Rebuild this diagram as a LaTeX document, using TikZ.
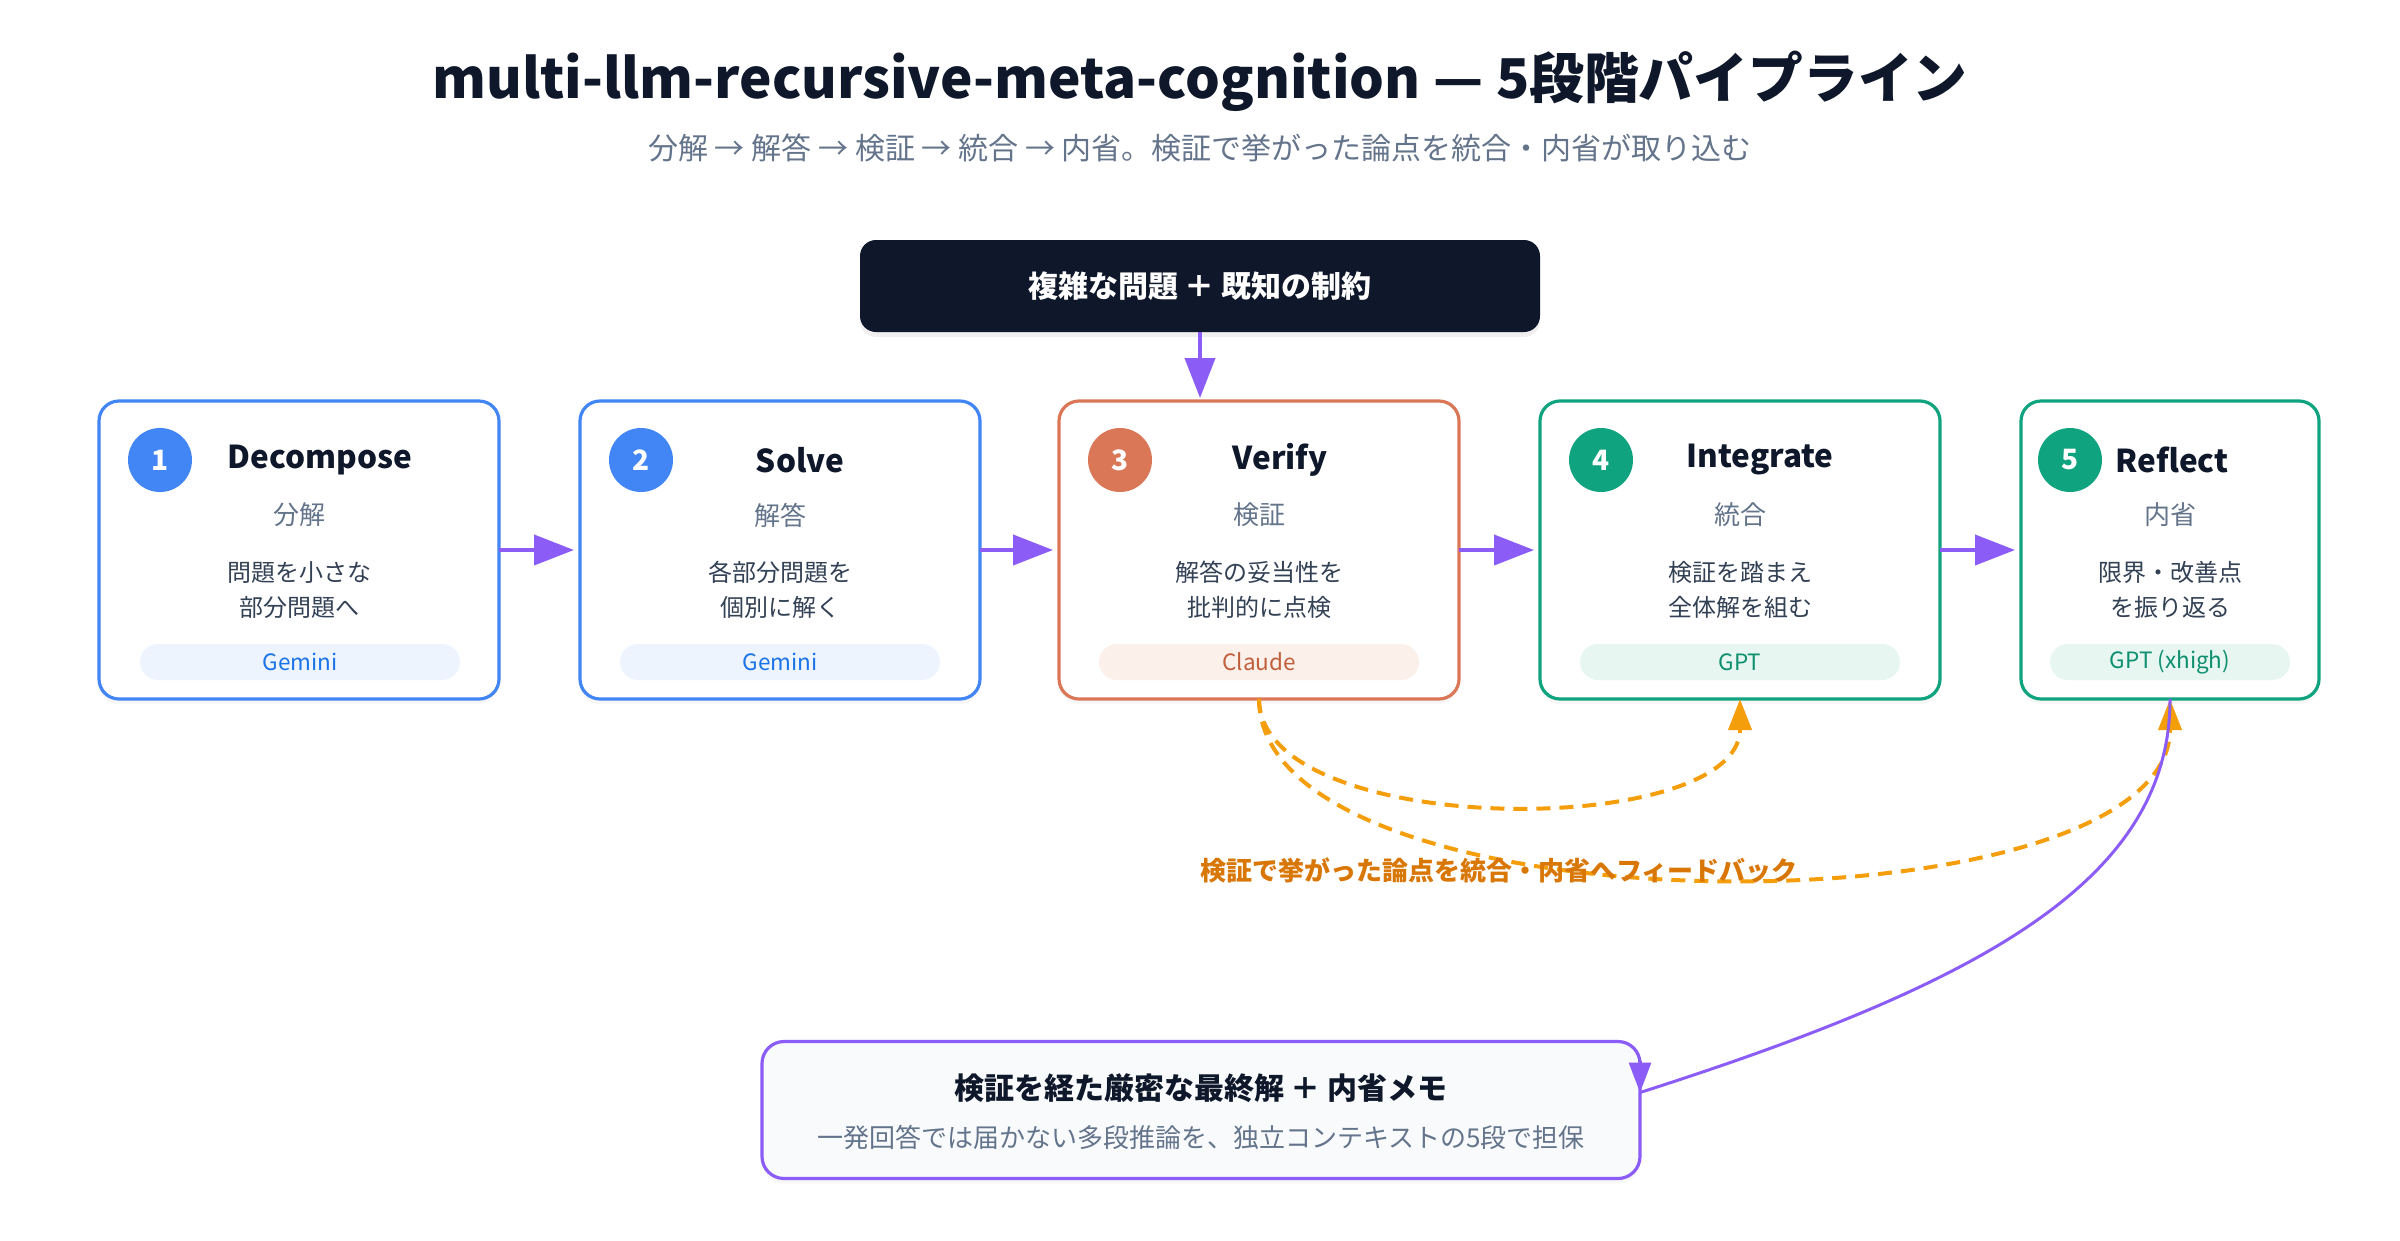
\documentclass[tikz,border=0pt]{standalone}
\usepackage{fontspec}
\setmainfont{Noto Sans CJK JP}
\usetikzlibrary{arrows.meta,shadows,calc}
\definecolor{ink}{HTML}{0F172A}
\definecolor{slate}{HTML}{64748B}
\definecolor{desc}{HTML}{334155}
\definecolor{gblue}{HTML}{4285F4}
\definecolor{gbluepill}{HTML}{EEF4FE}
\definecolor{gbluetext}{HTML}{1A73E8}
\definecolor{corange}{HTML}{D97757}
\definecolor{corangepill}{HTML}{FBF0EA}
\definecolor{corangetext}{HTML}{C15F3C}
\definecolor{ggreen}{HTML}{10A37F}
\definecolor{ggreenpill}{HTML}{E7F6F1}
\definecolor{ggreentext}{HTML}{0E8F6E}
\definecolor{flowpurple}{HTML}{8B5CF6}
\definecolor{amber}{HTML}{F59E0B}
\definecolor{amberdark}{HTML}{D97706}
\definecolor{finalfill}{HTML}{F8FAFC}
\newcommand\fsz[2]{\fontsize{#1}{#2}\selectfont}
\tikzset{
  txt/.style={inner sep=0pt, outer sep=0pt},
  topbox/.style={txt, fill=ink, rounded corners=16pt, minimum width=680pt, minimum height=92pt,
    text=white, font=\fsz{30}{36}\bfseries,
    drop shadow={opacity=0.12, shadow xshift=0pt, shadow yshift=-5pt}},
  stagebox/.style={txt, fill=white, line width=3.2pt, rounded corners=20pt, minimum height=298pt,
    drop shadow={opacity=0.06, shadow xshift=0pt, shadow yshift=-5pt}},
  badge/.style={txt, circle, minimum size=64pt, text=white, font=\fsz{28}{32}\bfseries},
  stagetitle/.style={txt, text=ink, font=\fsz{31.5}{36}\bfseries},
  stageja/.style={txt, text=slate, font=\fsz{26}{30}},
  stagedesc/.style={txt, text=desc, align=center, font=\fsz{24}{35}},
  pill/.style={txt, rounded corners=18pt, minimum height=36pt, font=\fsz{22.5}{26}},
  flow/.style={draw=flowpurple, line width=4pt, -{Triangle[length=40pt,width=30pt]}, shorten >=6pt},
  fb/.style={draw=amber, line width=4pt, dash pattern=on 14pt off 9pt, -{Triangle[length=31pt,width=23pt]}},
  fin/.style={draw=flowpurple, line width=3pt},
  fintip/.style={draw=flowpurple, line width=3pt, -{Triangle[length=30pt,width=22pt]}},
  finalbox/.style={txt, fill=finalfill, draw=flowpurple, line width=3.2pt, rounded corners=22pt,
    minimum width=878pt, minimum height=137pt,
    drop shadow={opacity=0.06, shadow xshift=0pt, shadow yshift=-5pt}}
}
\begin{document}
\begin{tikzpicture}[x=1pt,y=-1pt]
\useasboundingbox (0,0) rectangle (2400,1240);
\fill[white] (0,0) rectangle (2400,1240);

\node[txt, text=ink, font=\fsz{54.8}{62}\bfseries] (title) at (1200,81) {multi-llm-recursive-meta-cognition — 5段階パイプライン};
\node[txt, text=slate, font=\fsz{30}{35}] (subtitle) at (1200,148) {分解 → 解答 → 検証 → 統合 → 内省。検証で挙がった論点を統合・内省が取り込む};

\node[topbox] (input) at (1200,286) {複雑な問題 ＋ 既知の制約};

% stage 1
\node[stagebox, draw=gblue, minimum width=400pt] (s1) at (299,550) {};
\node[badge, fill=gblue] (n1) at (160,460) {1};
\node[stagetitle] (t1) at (320,460) {Decompose};
\node[stageja] (j1) at (299,515) {分解};
\node[stagedesc] (d1) at (299,590) {問題を小さな\\部分問題へ};
\node[pill, fill=gbluepill, text=gbluetext, minimum width=320pt] (p1) at (300,662) {Gemini};

% stage 2
\node[stagebox, draw=gblue, minimum width=400pt] (s2) at (780,550) {};
\node[badge, fill=gblue] (n2) at (641,460) {2};
\node[stagetitle] (t2) at (800,460) {Solve};
\node[stageja] (j2) at (780,515) {解答};
\node[stagedesc] (d2) at (780,590) {各部分問題を\\個別に解く};
\node[pill, fill=gbluepill, text=gbluetext, minimum width=320pt] (p2) at (780,662) {Gemini};

% stage 3
\node[stagebox, draw=corange, minimum width=400pt] (s3) at (1259,550) {};
\node[badge, fill=corange] (n3) at (1120,460) {3};
\node[stagetitle] (t3) at (1280,460) {Verify};
\node[stageja] (j3) at (1259,515) {検証};
\node[stagedesc] (d3) at (1259,590) {解答の妥当性を\\批判的に点検};
\node[pill, fill=corangepill, text=corangetext, minimum width=320pt] (p3) at (1259,662) {Claude};

% stage 4
\node[stagebox, draw=ggreen, minimum width=400pt] (s4) at (1740,550) {};
\node[badge, fill=ggreen] (n4) at (1601,460) {4};
\node[stagetitle] (t4) at (1760,460) {Integrate};
\node[stageja] (j4) at (1740,515) {統合};
\node[stagedesc] (d4) at (1740,590) {検証を踏まえ\\全体解を組む};
\node[pill, fill=ggreenpill, text=ggreentext, minimum width=320pt] (p4) at (1740,662) {GPT};

% stage 5
\node[stagebox, draw=ggreen, minimum width=298pt] (s5) at (2170,550) {};
\node[badge, fill=ggreen] (n5) at (2070,460) {5};
\node[stagetitle] (t5) at (2172,460) {Reflect};
\node[stageja] (j5) at (2170,515) {内省};
\node[stagedesc] (d5) at (2170,590) {限界・改善点\\を振り返る};
\node[pill, fill=ggreenpill, text=ggreentext, minimum width=240pt] (p5) at (2170,662) {GPT (xhigh)};

% flow arrows
\draw[flow, shorten >=3pt] (input.south) -- (input.south |- s3.north);
\draw[flow] (s1.east) -- (s2.west);
\draw[flow] (s2.east) -- (s3.west);
\draw[flow] (s3.east) -- (s4.west);
\draw[flow] (s4.east) -- (s5.west);

% feedback
\draw[fb] (s3.south) .. controls (1260,840) and (1740,840) .. (s4.south);
\draw[fb] (s3.south) .. controls (1260,937) and (2170,937) .. (s5.south);
\node[txt, text=amberdark, font=\fsz{26}{30}\bfseries] (fblabel) at (1499,870) {検証で挙がった論点を統合・内省へフィードバック};

% final
\node[finalbox] (final) at (1201,1110) {};
\node[txt, text=ink, font=\fsz{30}{36}\bfseries] (f1) at (1201,1088) {検証を経た厳密な最終解 ＋ 内省メモ};
\node[txt, text=slate, font=\fsz{26}{30}] (f2) at (1201,1137) {一発回答では届かない多段推論を、独立コンテキストの5段で担保};
\coordinate (finIn) at ($(final.north east)+(0,51)$);
\draw[fin] (s5.south) .. controls (2170,880) and (1983,983) .. (finIn);
\draw[fintip] ($(finIn)+(0,-32)$) -- (finIn);
\end{tikzpicture}
\end{document}
